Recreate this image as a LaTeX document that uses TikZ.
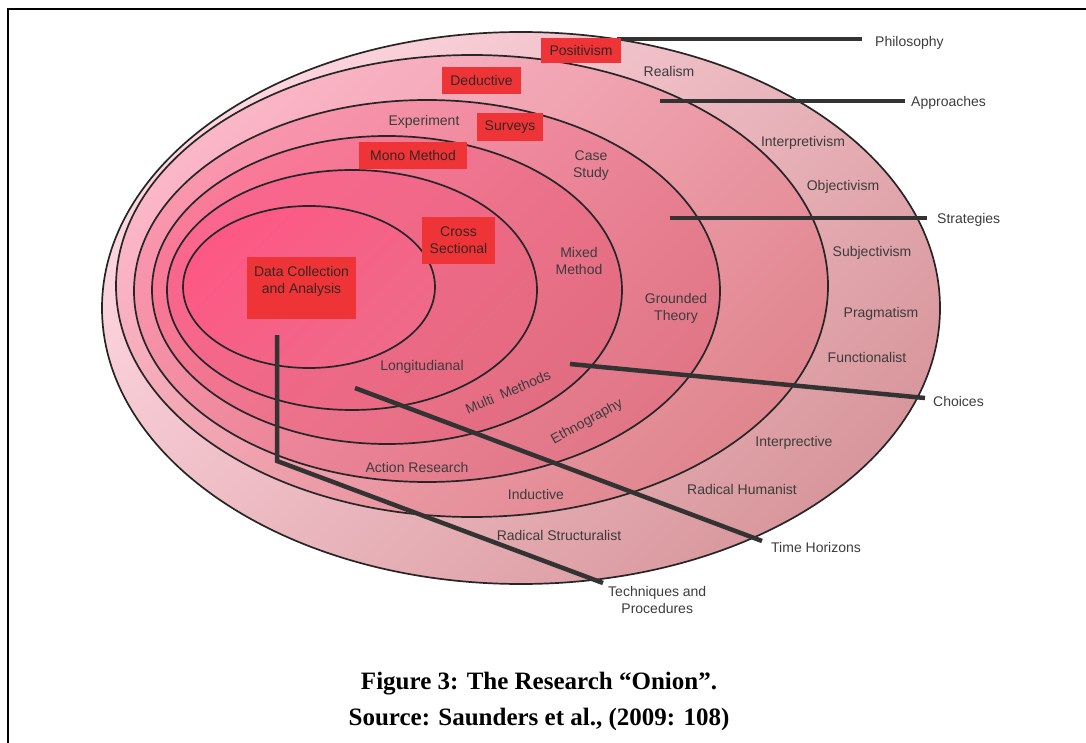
\documentclass[tikz,border=0pt]{standalone}
\usepackage{fontspec}
\setmainfont{Liberation Sans}
\newfontfamily\capfont{Liberation Serif}
\usetikzlibrary{positioning}
\definecolor{boxred}{HTML}{EE3436}
\definecolor{inkgray}{HTML}{3C3C3C}
\definecolor{boxink}{HTML}{3A2424}
\definecolor{leader}{HTML}{333333}
\definecolor{ringAa}{HTML}{FDD6E0}\definecolor{ringAb}{HTML}{D8979C}
\definecolor{ringBa}{HTML}{FBB6C7}\definecolor{ringBb}{HTML}{E0868F}
\definecolor{ringCa}{HTML}{F996AE}\definecolor{ringCb}{HTML}{E07686}
\definecolor{ringDa}{HTML}{F97A99}\definecolor{ringDb}{HTML}{E26C81}
\definecolor{ringEa}{HTML}{FA668E}\definecolor{ringEb}{HTML}{E66A81}
\definecolor{ringFa}{HTML}{FD5885}\definecolor{ringFb}{HTML}{EF6A88}
\begin{document}
\begin{tikzpicture}[x=1pt,y=-1pt,
    ring/.style 2 args={draw=black!85,line width=1.7pt,top color=#1,bottom color=#2,shading angle=45},
    lbl/.style={font=\fontsize{14}{17}\selectfont,text=inkgray,inner sep=1pt,align=center,yshift=-2pt},
    redbox/.style={fill=boxred,font=\fontsize{14}{17}\selectfont,text=boxink,inner sep=0pt,align=center},
    bar/.style={draw=leader,line width=4.5pt}]
\useasboundingbox (0,0) rectangle (1086,743);
% frame
\draw[line width=1.5pt] (8,743) -- (8,9) -- (1086,9);
% the onion, outside in
\shadedraw[ring={ringAa}{ringAb}] (521,308) ellipse [x radius=419,y radius=276];
\shadedraw[ring={ringBa}{ringBb}] (472,286) ellipse [x radius=356,y radius=231];
\shadedraw[ring={ringCa}{ringCb}] (427,291) ellipse [x radius=293,y radius=191];
\shadedraw[ring={ringDa}{ringDb}] (387,290) ellipse [x radius=235,y radius=154];
\shadedraw[ring={ringEa}{ringEb}] (352,290) ellipse [x radius=185,y radius=120];
\shadedraw[ring={ringFa}{ringFb}] (309,287) ellipse [x radius=126,y radius=81];
% leader ends
\coordinate (phil-in) at (617,39);   \coordinate (phil-out) at (862,39);
\coordinate (appr-in) at (660,101);  \coordinate (appr-out) at (905,101);
\coordinate (strat-in) at (670,218); \coordinate (strat-out) at (927,218);
\coordinate (choice-in) at (570,364);\coordinate (choice-out) at (925,398);
\coordinate (time-in) at (355,388);  \coordinate (time-out) at (762,541);
\coordinate (tech-in) at (277,335);  \coordinate (tech-bend) at (277,461);
\coordinate (tech-out) at (603,583);
% layer names
\node[lbl,right=12pt of phil-out,yshift=-2pt] (philosophy) {Philosophy};
\node[lbl,right=5pt of appr-out] (approaches) {Approaches};
\node[lbl,right=9pt of strat-out] (strategies) {Strategies};
\node[lbl,right=7pt of choice-out,yshift=-1pt] (choices) {Choices};
\node[lbl,right=8pt of time-out,yshift=-4pt] (timehorizons) {Time Horizons};
\node[lbl,below right=2pt and 4pt of tech-out,yshift=2pt] (techniques) {Techniques and\\Procedures};
\draw[bar] (phil-in) -- (phil-out);
\draw[bar] (appr-in) -- (appr-out);
\draw[bar] (strat-in) -- (strat-out);
\draw[bar] (choice-in) -- (choice-out);
\draw[bar] (time-in) -- (time-out);
\draw[bar] (tech-in) -- (tech-bend) -- (tech-out);
% red boxes
\node[redbox,minimum width=80pt,minimum height=25pt] (positivism) at (581,50.5) {Positivism};
\node[redbox,minimum width=79pt,minimum height=27pt] (deductive) at (481.5,80.5) {Deductive};
\node[redbox,minimum width=66pt,minimum height=28pt] (surveys) at (510,127) {Surveys};
\node[redbox,minimum width=108pt,minimum height=27pt] (monomethod) at (413,155.5) {Mono Method};
\node[redbox,minimum width=73pt,minimum height=47pt] (crosssectional) at (458.5,240.5) {Cross\\Sectional};
\node[redbox,minimum width=109pt,minimum height=62pt] (datacollection) at (301.5,288) {};
\node[redbox,fill=none,anchor=north] (datatext) at ([yshift=-9pt]datacollection.north) {Data Collection\\and Analysis};
% ring labels
\node[lbl] (realism) at (669,69) {Realism};
\node[lbl] (experiment) at (424,120) {Experiment};
\node[lbl] (casestudy) at (591,163.5) {Case\\Study};
\node[lbl] (interpretivism) at (803,141) {Interpretivism};
\node[lbl] (objectivism) at (843,185) {Objectivism};
\node[lbl] (subjectivism) at (872,251) {Subjectivism};
\node[lbl] (pragmatism) at (881,312) {Pragmatism};
\node[lbl] (functionalist) at (867,355) {Functionalist};
\node[lbl] (mixedmethod) at (579,259) {Mixed\\Method};
\node[lbl] (groundedtheory) at (676,306) {Grounded\\Theory};
\node[lbl] (longitudianal) at (422,365) {Longitudianal};
\node[lbl,rotate=23] (multimethods) at (508,390) {Multi\ \ Methods};
\node[lbl,rotate=29] (ethnography) at (587,420) {Ethnography};
\node[lbl] (actionresearch) at (417,465) {Action Research};
\node[lbl] (inductive) at (536,492) {Inductive};
\node[lbl] (radstructuralist) at (559,533) {Radical Structuralist};
\node[lbl] (radhumanist) at (742,487) {Radical Humanist};
\node[lbl] (interprective) at (794,441) {Interprective};
% caption
\node[font=\capfont\bfseries\fontsize{25}{36}\selectfont,align=center] (caption) at (539,701)
  {Figure 3: The Research “Onion”.\\Source: Saunders et al., (2009: 108)};
\end{tikzpicture}
\end{document}
